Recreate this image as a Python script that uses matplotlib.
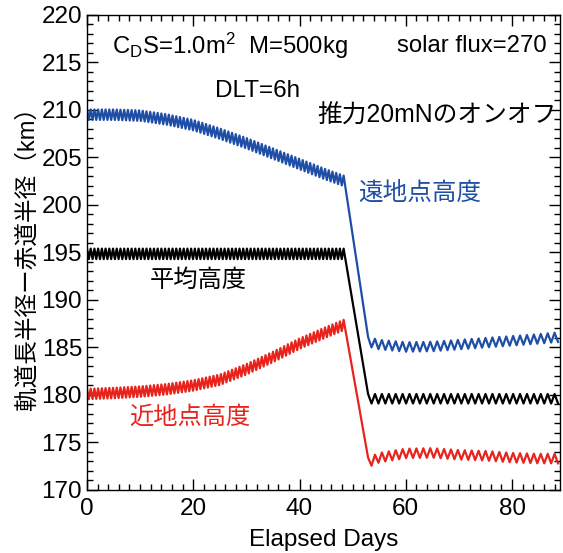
import numpy as np
import matplotlib
matplotlib.use('Agg')
import matplotlib.pyplot as plt
from matplotlib.ticker import MultipleLocator

plt.rcParams['font.family'] = ['Liberation Sans', 'Noto Sans CJK JP']
plt.rcParams['mathtext.fontset'] = 'custom'
plt.rcParams['mathtext.rm'] = 'Liberation Sans'
plt.rcParams['mathtext.it'] = 'Liberation Sans'

# centre of each band (thrust on: before the drop, off: after)
days_on = [0, 5, 10, 15, 20, 25, 30, 35, 40, 45, 48.5]
days_off = [52.9, 55, 60, 65, 70, 75, 80, 85, 89]

apogee_on = [209.5, 209.5, 209.4, 209.0, 208.4, 207.5, 206.5, 205.4, 204.3, 203.2, 202.5]
apogee_off = [185.6, 185.3, 185.05, 185.1, 185.3, 185.5, 185.7, 185.9, 186.1]
mean_on = [194.85] * len(days_on)
mean_off = [179.6] * len(days_off)
perigee_on = [180.1, 180.2, 180.35, 180.6, 181.0, 181.6, 182.7, 184.0, 185.4, 186.6, 187.4]
perigee_off = [172.9, 173.4, 173.85, 173.9, 173.7, 173.6, 173.4, 173.3, 173.3]

# ripple seen on the bands (period in days, half amplitude in km)
ripple_period = {'on': 0.7, 'off': 1.3}
ripple_amp = {'on': 0.55, 'off': 0.5}

blue = '#1f4ea6'
red = '#e8231c'


def ripple(days, vals, key):
  t = np.arange(days[0], days[-1] + 1e-6, ripple_period[key] / 2)
  sign = np.where(np.arange(len(t)) % 2 == 0, 1.0, -1.0)
  return t, np.interp(t, days, vals) + ripple_amp[key] * sign


def series(on, off):
  t1, v1 = ripple(days_on, on, 'on')
  t2, v2 = ripple(days_off, off, 'off')
  return np.concatenate([t1, t2]), np.concatenate([v1, v2])


fig = plt.figure(figsize=(5.63, 5.53), dpi=100)
ax = fig.add_axes([0.1545, 0.114, 0.840, 0.859])

for on, off, c in [(apogee_on, apogee_off, blue), (mean_on, mean_off, 'black'),
                   (perigee_on, perigee_off, red)]:
  x, y = series(on, off)
  ax.plot(x, y, color=c, lw=1.6)

ax.set_xlim(0, 89)
ax.set_ylim(170, 220)
ax.xaxis.set_major_locator(MultipleLocator(20))
ax.xaxis.set_minor_locator(MultipleLocator(2))
ax.yaxis.set_major_locator(MultipleLocator(5))
ax.yaxis.set_minor_locator(MultipleLocator(1))
ax.tick_params(which='both', direction='in', top=True, right=True, labelsize=17.5, width=1)
ax.tick_params(which='major', length=8)
ax.tick_params(which='minor', length=4)
ax.tick_params(axis='x', pad=6)
for s in ax.spines.values():
  s.set_linewidth(1)

ax.set_xlabel('Elapsed Days', fontsize=17.5, labelpad=6)
ax.set_ylabel('軌道長半径ー赤道半径（km）', fontsize=17, labelpad=2)

ax.text(4.7, 216.7, r'C$_\mathrm{D}$S=1.0m$^2$  M=500kg', fontsize=17.2, va='center')
ax.text(58.3, 216.7, 'solar flux=270', fontsize=17.2, va='center')
ax.text(24.1, 212.0, 'DLT=6h', fontsize=17.5, va='center')
ax.text(43.3, 209.4, '推力20mNのオンオフ', fontsize=17.8, va='center')
ax.text(51.0, 201.3, '遠地点高度', fontsize=17.7, va='center', color=blue)
ax.text(11.8, 192.0, '平均高度', fontsize=17.5, va='center', color='black')
ax.text(8.0, 177.6, '近地点高度', fontsize=17.5, va='center', color=red)

fig.savefig('out.png', dpi=100)
